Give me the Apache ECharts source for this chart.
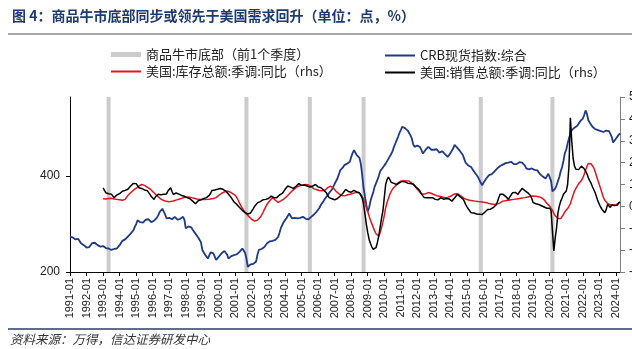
<!DOCTYPE html>
<html>
<head>
<meta charset="utf-8">
<script src="https://cdn.jsdelivr.net/npm/echarts@6/dist/echarts.min.js"></script>
<style>
  html, body { margin: 0; padding: 0; background: #fff; }
  #chart { width: 632px; height: 349px; }
</style>
</head>
<body>
<div id="chart"></div>
<script>
// Monthly categories 1991-01 .. 2024-04
const firstYear = 1991;
const lastYear = 2024;
const lastMonth = 4;
const months = [];
for (let y = firstYear; y <= lastYear; y++) {
  for (let m = 1; m <= 12; m++) {
    if (y === lastYear && m > lastMonth) break;
    months.push(y + '-' + (m < 10 ? '0' + m : m));
  }
}

// CRB spot index: composite (left axis), monthly from 1991-01
const crbIndex = [
  273,271,272,270,268,271,269,265,260,258,256,254,
  251,249,252,256,260,263,261,258,256,254,253,252,
  254,252,250,251,249,247,246,246,248,247,249,252,
  256,260,265,267,268,272,274,276,280,284,287,294,
  300,308,307,304,306,303,305,309,312,310,306,304,
  305,307,310,313,318,325,329,332,331,320,312,311,
  313,312,310,314,315,312,309,308,311,313,315,309,
  291,292,295,294,293,288,284,280,276,272,268,262,
  246,242,236,232,228,230,241,238,239,232,225,229,
  232,236,239,242,244,246,236,228,231,233,234,235,
  236,237,239,242,245,249,247,240,228,211,214,216,
  218,217,220,222,236,246,247,248,249,252,256,260,
  262,264,263,265,266,267,270,273,282,292,298,304,
  308,312,316,322,318,312,310,313,309,312,314,313,
  312,315,313,311,312,310,314,315,317,320,323,326,
  330,334,340,344,348,353,356,360,365,367,372,378,
  384,388,395,403,412,414,418,423,424,426,428,430,
  440,448,454,450,444,441,438,425,402,375,357,340,
  326,334,348,358,366,378,385,392,400,410,414,418,
  421,426,430,436,440,446,452,461,468,475,482,490,
  496,503,505,500,499,495,490,485,478,466,461,463,
  464,466,460,454,447,450,455,458,461,457,455,456,
  455,453,456,452,449,451,452,448,446,442,440,444,
  448,451,458,465,462,459,457,452,448,444,436,428,
  425,422,420,419,414,410,406,402,398,392,386,381,
  386,390,395,398,402,406,404,408,410,412,416,420,
  421,423,424,425,427,426,428,429,430,427,425,423,
  425,427,429,430,428,426,422,416,412,414,415,416,
  415,413,411,412,409,404,400,399,396,395,400,405,
  404,390,368,367,374,381,390,398,410,419,432,448,
  455,468,479,488,496,499,501,503,505,509,514,518,
  520,527,537,530,517,512,508,503,500,498,497,496,
  496,494,493,492,494,495,496,494,488,482,470,474,
  478,482,486,489
];

// US total business inventories, SA, YoY % (right axis), monthly from 1993-01
const yoyStart = '1993-01';
const inventoryYoY = [
  3.5,3.5,3.4,3.5,3.6,3.7,3.7,3.6,3.4,3.3,3.2,3.1,
  3.0,2.9,2.8,2.7,3.2,4.0,5.0,5.5,6.2,6.9,7.4,7.8,
  8.3,8.8,9.3,9.8,10.0,9.9,9.6,9.2,8.8,8.5,8.0,7.4,
  6.8,6.0,5.5,5.0,4.4,3.8,3.3,3.0,2.7,2.5,2.3,2.2,
  2.1,2.2,2.3,2.5,2.7,2.9,3.1,3.3,3.5,3.7,3.9,4.1,
  4.2,4.3,4.3,4.2,4.0,3.8,3.7,3.5,3.4,3.3,3.2,3.2,
  3.2,3.1,3.1,3.2,3.2,3.3,3.4,3.5,3.6,3.8,4.0,4.3,
  5.0,5.6,6.0,6.3,6.6,6.9,7.0,6.9,6.6,6.2,5.8,5.5,
  5.0,4.0,2.8,1.5,0.2,-0.8,-1.8,-2.7,-3.5,-4.2,-4.8,-5.4,
  -6.0,-6.5,-6.7,-6.6,-6.3,-5.8,-5.0,-4.0,-2.8,-1.5,-0.2,1.0,
  1.9,2.7,3.4,4.0,3.6,2.8,2.1,1.8,2.0,2.5,2.9,3.3,
  3.8,4.4,5.0,5.7,6.3,7.0,7.5,8.1,8.6,9.0,9.3,9.5,
  9.7,9.8,10.0,10.0,10.0,9.8,9.5,9.0,8.5,8.0,7.8,7.6,
  7.5,7.3,7.2,7.1,7.0,7.4,8.0,8.6,9.0,9.3,9.0,8.4,
  7.6,6.9,6.3,5.8,5.3,5.0,4.7,4.8,5.0,5.2,5.4,5.5,
  5.7,5.9,6.1,6.3,6.4,6.4,6.2,5.5,4.4,3.2,1.5,-0.5,
  -2.4,-4.5,-6.3,-8.0,-9.7,-11.2,-12.5,-13.4,-13.6,-12.0,-9.7,-7.2,
  -4.2,-0.6,1.8,3.6,5.5,6.8,7.9,8.6,9.3,10.1,10.7,11.2,
  11.5,11.6,11.7,11.7,11.6,11.6,11.6,11.2,10.5,9.8,9.3,8.6,
  7.8,7.0,6.3,5.8,5.5,5.6,5.8,6.1,6.3,6.2,6.0,5.7,
  5.4,5.1,4.9,4.7,4.6,4.4,4.3,4.1,4.0,4.0,4.1,4.3,
  4.6,5.0,5.4,5.7,5.8,5.8,5.5,5.1,4.6,4.0,3.6,3.3,
  3.1,2.9,2.8,2.7,2.6,2.5,2.4,2.3,2.2,2.1,2.1,2.0,
  1.9,1.8,1.7,1.5,1.3,1.2,1.1,1.0,0.9,0.9,1.0,1.2,
  1.6,2.0,2.4,2.5,2.6,2.7,2.8,2.9,3.0,3.1,3.2,3.3,
  3.4,3.5,3.6,3.7,3.8,3.9,4.0,4.1,4.3,4.4,4.5,4.6,
  4.7,4.7,4.6,4.5,4.4,4.2,4.0,3.6,3.0,2.2,1.3,0.5,
  0.1,-0.6,-1.8,-3.2,-4.3,-4.9,-5.5,-5.9,-5.6,-4.8,-3.7,-2.5,
  -1.6,-1.0,-0.6,1.2,3.3,5.2,7.0,8.2,9.3,10.4,11.2,11.8,
  13.0,14.6,16.5,18.3,19.6,20.0,19.5,18.6,17.6,15.8,13.8,11.8,
  10.0,8.0,6.0,4.0,2.8,2.0,1.3,0.9,0.7,0.6,0.5,0.6,
  0.8,1.1,1.4,1.7
];

// US total business sales, SA, YoY % (right axis), monthly from 1993-01
const salesYoY = [
  8.5,7.8,6.2,5.5,5.8,6.3,5.6,4.8,4.0,4.6,5.2,5.5,
  5.8,6.3,6.9,7.0,7.3,7.6,7.8,8.4,9.3,9.8,10.5,11.1,
  10.4,9.6,8.5,8.9,8.2,7.9,7.5,7.0,7.2,6.4,5.5,4.5,
  3.8,3.2,4.4,5.2,5.5,5.0,5.3,5.9,5.5,5.2,5.7,7.0,
  7.6,8.5,6.8,5.5,5.8,6.1,5.4,5.6,5.5,5.0,4.9,4.6,
  4.3,4.0,3.7,3.5,3.2,2.4,1.6,1.2,1.8,2.6,3.2,3.0,
  3.4,3.6,3.8,4.0,4.2,5.0,6.0,7.3,7.0,7.5,7.3,7.8,
  8.5,8.2,7.6,7.8,7.4,7.0,6.5,5.5,5.0,4.0,3.0,2.0,
  1.7,0.9,0.2,-0.5,-1.4,-1.8,-2.2,-2.9,-3.2,-3.5,-3.7,-3.0,
  -2.2,-1.0,0.1,0.8,1.6,2.4,2.2,2.6,3.0,2.8,3.2,3.5,
  3.6,4.2,4.7,4.3,4.0,4.4,4.0,4.6,5.2,5.5,5.9,6.8,
  7.8,8.6,9.3,9.0,8.8,8.5,8.2,8.5,9.2,9.9,10.4,10.0,
  9.6,10.4,9.8,9.5,9.3,9.0,8.8,9.4,9.3,9.6,10.0,9.2,
  8.9,8.7,8.5,8.0,7.5,7.0,6.2,5.0,4.0,3.2,3.5,3.4,
  3.0,3.2,3.6,4.2,4.7,5.5,6.0,6.6,7.8,7.2,6.8,6.3,
  6.5,6.9,7.3,7.0,6.6,7.0,6.2,5.5,3.8,0.9,-3.5,-8.2,
  -12.0,-15.1,-17.0,-18.6,-19.6,-19.5,-18.9,-16.5,-13.5,-9.5,-5.5,-2.1,
  4.0,10.0,12.2,13.4,12.3,11.0,10.8,10.5,10.2,10.0,10.4,10.8,
  11.2,11.4,11.6,11.2,10.9,10.6,10.8,10.5,10.8,10.2,9.6,8.8,
  8.2,7.8,6.8,5.6,4.8,4.0,3.6,3.9,4.4,4.0,3.8,4.0,
  3.6,3.2,3.5,3.0,3.8,4.0,3.6,3.3,3.2,3.6,3.9,3.4,
  2.9,2.4,3.0,3.8,4.5,5.5,5.0,4.4,3.9,3.4,2.4,0.9,
  -0.2,-1.2,-2.0,-2.9,-2.6,-3.0,-3.2,-3.5,-3.7,-3.6,-3.8,-3.7,
  -3.0,-2.6,-2.1,-1.4,-1.8,-1.3,-1.0,-0.6,-0.4,0.6,2.0,3.8,
  5.5,5.1,5.6,5.5,4.6,3.9,3.2,4.2,5.0,6.2,7.0,6.4,
  5.9,5.5,6.6,7.4,8.2,7.6,7.2,6.8,6.3,6.0,5.0,3.6,
  1.7,1.4,1.2,1.0,0.9,0.5,0.3,0.1,-0.3,-0.6,-0.9,-1.4,
  -0.8,-2.0,-11.3,-20.4,-14.5,-9.7,-3.0,0.2,2.4,3.8,5.5,5.8,
  7.0,10.0,18.5,40.5,29.8,22.0,18.4,17.0,16.1,16.8,17.5,18.4,
  18.0,17.2,16.1,15.0,13.1,11.8,10.6,9.0,8.5,6.2,4.3,2.4,
  1.0,-0.4,-1.4,-2.0,-2.9,-1.5,0.9,0.3,-0.5,0.8,0.1,0.4,
  1.2,0.5,1.6,2.1
];

// Commodity bull-market bottoms (quarter before), shown as grey bands
const bottomMonths = ['1993-05', '2001-09', '2005-07', '2008-10', '2015-11', '2020-03'];

// Axis settings
const leftTicks = { min: 200, max: 565, interval: 200 };
const rightTicks = { min: -30, max: 50, interval: 10 };

const seriesNames = {
  bottom: '商品牛市底部（前1个季度）',
  crb: 'CRB现货指数:综合',
  inv: '美国:库存总额:季调:同比（rhs）',
  sales: '美国:销售总额:季调:同比（rhs）'
};

const offset = months.indexOf(yoyStart);
const pad = arr => months.map((m, i) => (i >= offset && i - offset < arr.length) ? arr[i - offset] : '-');
const bottomData = months.map(m => bottomMonths.indexOf(m) >= 0 ? 1 : '-');

const isJan = (idx, val) => /-01$/.test(val);
const fontFam = '"Liberation Sans", Arial, sans-serif';
const cjkFam = '"Noto Sans CJK SC", sans-serif';

function legendAt(name, left, top, h) {
  return {
    data: [{ name: name }],
    left: left, top: top, padding: 0,
    icon: 'rect', itemWidth: 30, itemHeight: h,
    textStyle: { fontFamily: cjkFam, fontSize: 13, color: '#222' },
    selectedMode: false
  };
}

const chart = echarts.init(document.getElementById('chart'), null, { renderer: 'canvas' });
chart.setOption({
  animation: false,
  backgroundColor: '#fff',
  grid: { left: 70, right: 12, top: 97, bottom: 77, containLabel: false, outerBoundsMode: 'none' },
  legend: [
    legendAt(seriesNames.bottom, 111, 48, 5),
    legendAt(seriesNames.crb, 385, 49, 2),
    legendAt(seriesNames.inv, 111, 65, 2),
    legendAt(seriesNames.sales, 385, 66, 2)
  ],
  graphic: [
    { type: 'text', left: 12, top: 9,
      style: { text: '图 4：商品牛市底部同步或领先于美国需求回升（单位：点，%）',
        font: 'bold 14px "Noto Sans CJK SC", sans-serif', fill: '#1f3a70' } },
    { type: 'line', shape: { x1: 8, y1: 34, x2: 632, y2: 34 },
      style: { stroke: '#8a8a8a', lineWidth: 1.5 } },
    { type: 'line', shape: { x1: 8, y1: 329, x2: 632, y2: 329 },
      style: { stroke: '#2b3d6b', lineWidth: 1.5 } },
    { type: 'text', left: 10, top: 333,
      style: { text: '资料来源：万得，信达证券研发中心',
        font: 'italic 12.5px "Noto Sans CJK SC", sans-serif', fill: '#333' } }
  ],
  xAxis: {
    type: 'category',
    data: months,
    boundaryGap: false,
    axisLine: { onZero: false, lineStyle: { color: '#000', width: 1 } },
    axisTick: { interval: isJan, length: 4, lineStyle: { color: '#000' } },
    axisLabel: { interval: isJan, rotate: 90, margin: 6, fontSize: 11,
      fontFamily: fontFam, color: '#222' },
    splitLine: { show: false }
  },
  yAxis: [
    { type: 'value', position: 'left', min: leftTicks.min, max: leftTicks.max,
      interval: leftTicks.interval,
      axisLine: { show: true, lineStyle: { color: '#000', width: 1 } },
      axisTick: { show: true, length: 4, lineStyle: { color: '#000' } },
      axisLabel: { showMaxLabel: false, fontSize: 12, fontFamily: fontFam, color: '#222', margin: 10 },
      splitLine: { show: false } },
    { type: 'value', position: 'right', min: rightTicks.min, max: rightTicks.max,
      interval: rightTicks.interval,
      axisLine: { show: true, lineStyle: { color: '#7f7f7f', width: 1 } },
      axisTick: { show: true, length: 5, lineStyle: { color: '#7f7f7f' } },
      axisLabel: { fontSize: 12, fontFamily: fontFam, color: '#222', margin: 9 },
      splitLine: { show: false } },
    { type: 'value', min: 0, max: 1, show: false }
  ],
  series: [
    { name: seriesNames.bottom, type: 'bar', yAxisIndex: 2, data: bottomData,
      barWidth: 4, itemStyle: { color: '#cccccc' }, silent: true, z: 1 },
    { name: seriesNames.crb, type: 'line', yAxisIndex: 0, data: crbIndex,
      showSymbol: false, symbol: 'none', lineStyle: { color: '#1f3a8a', width: 1.8 },
      itemStyle: { color: '#1f3a8a' }, z: 2 },
    { name: seriesNames.inv, type: 'line', yAxisIndex: 1, data: pad(inventoryYoY),
      showSymbol: false, symbol: 'none', lineStyle: { color: '#e8131b', width: 1.5 },
      itemStyle: { color: '#e8131b' }, z: 3 },
    { name: seriesNames.sales, type: 'line', yAxisIndex: 1, data: pad(salesYoY),
      showSymbol: false, symbol: 'none', lineStyle: { color: '#000000', width: 1.5 },
      itemStyle: { color: '#000000' }, z: 4 }
  ]
});
</script>
</body>
</html>
